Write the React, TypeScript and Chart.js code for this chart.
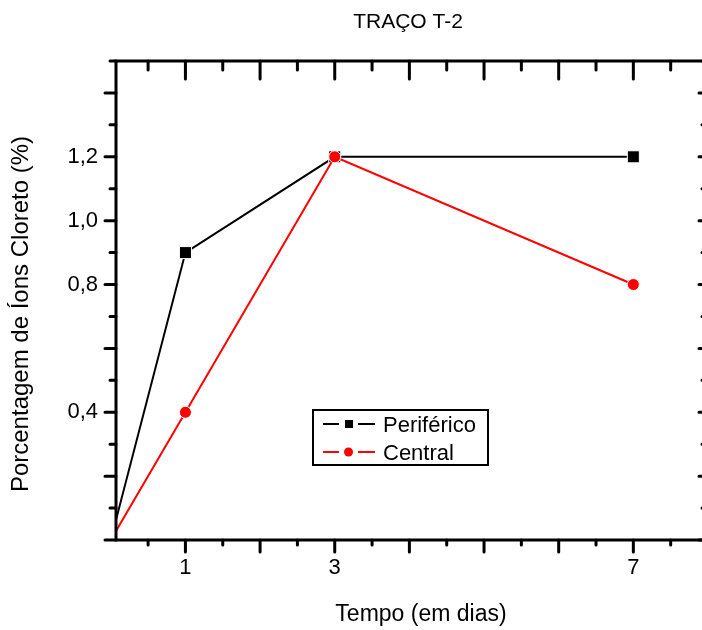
import React, { useEffect, useRef } from 'react';
import { Chart, registerables } from 'chart.js';

Chart.register(...registerables);

const TITLE = 'TRAÇO T-2';
const X_TITLE = 'Tempo (em dias)';
const Y_TITLE = 'Porcentagem de Íons Cloreto (%)';

const DAYS = [0, 1, 3, 7];
const PERIFERICO = [0, 0.9, 1.2, 1.2];
const CENTRAL = [0, 0.4, 1.2, 0.8];

const X_TICK_LABELS = [1, 3, 7];
const Y_TICK_LABELS = [0.4, 0.8, 1.0, 1.2];

const X_MIN = 0.07;
const X_MAX = 8;
const Y_MIN = 0;
const Y_MAX = 1.5;

const FONT = '"Liberation Sans", Arial, Helvetica, sans-serif';

const framePlugin = {
  id: 'originFrame',
  afterDatasetsDraw(chart: any) {
    const { ctx, chartArea: a, scales } = chart;
    const x = scales.x;
    const y = scales.y;
    ctx.save();
    ctx.strokeStyle = '#000';
    ctx.lineWidth = 3;
    ctx.lineJoin = 'miter';
    ctx.strokeRect(a.left, a.top, a.right - a.left, a.bottom - a.top);

    ctx.lineCap = 'round';
    ctx.lineWidth = 3;
    // x ticks every 0.5, major every 1
    for (let k = Math.ceil(X_MIN * 2); k <= X_MAX * 2; k++) {
      const v = k / 2;
      const major = k % 2 === 0;
      const px = x.getPixelForValue(v);
      ctx.beginPath();
      ctx.moveTo(px, a.bottom);
      ctx.lineTo(px, a.bottom + (major ? 12 : 5));
      ctx.moveTo(px, a.top);
      ctx.lineTo(px, a.top + (major ? 18 : 9));
      ctx.stroke();
    }
    // y ticks every 0.1, major every 0.2
    for (let k = Math.round(Y_MIN * 10); k <= Math.round(Y_MAX * 10); k++) {
      const v = k / 10;
      const major = k % 2 === 0;
      const py = y.getPixelForValue(v);
      ctx.beginPath();
      ctx.moveTo(a.left, py);
      ctx.lineTo(a.left - (major ? 11 : 6), py);
      ctx.moveTo(a.right, py);
      ctx.lineTo(a.right - (major ? 9 : 6), py);
      ctx.stroke();
    }
    ctx.restore();
  },
  afterDraw(chart: any) {
    const { ctx } = chart;
    ctx.save();
    ctx.fillStyle = '#000';

    // title
    ctx.font = `21px ${FONT}`;
    ctx.textAlign = 'center';
    ctx.textBaseline = 'alphabetic';
    ctx.fillText(TITLE, 408, 28);

    // x title
    ctx.font = `23px ${FONT}`;
    ctx.fillText(X_TITLE, 421, 621);

    // y title
    ctx.save();
    ctx.translate(28, 314);
    ctx.rotate(-Math.PI / 2);
    ctx.font = `24px ${FONT}`;
    ctx.fillText(Y_TITLE, 0, 0);
    ctx.restore();

    // legend
    const bx = 313, by = 410, bw = 175, bh = 55;
    ctx.fillStyle = '#fff';
    ctx.fillRect(bx, by, bw, bh);
    ctx.strokeStyle = '#000';
    ctx.lineWidth = 2;
    ctx.strokeRect(bx, by, bw, bh);
    const rows = [424, 452];
    chart.data.datasets.forEach((ds: any, i: number) => {
      const ry = rows[i];
      ctx.strokeStyle = ds.borderColor;
      ctx.lineWidth = 2;
      ctx.lineCap = 'butt';
      ctx.beginPath();
      ctx.moveTo(323, ry);
      ctx.lineTo(339, ry);
      ctx.moveTo(358, ry);
      ctx.lineTo(375, ry);
      ctx.stroke();
      ctx.fillStyle = ds.backgroundColor;
      if (ds.pointStyle === 'rect') {
        ctx.fillRect(345, ry - 4, 8, 8);
      } else {
        ctx.beginPath();
        ctx.arc(348.5, ry, 4.5, 0, Math.PI * 2);
        ctx.fill();
      }
      ctx.fillStyle = '#000';
      ctx.font = `22px ${FONT}`;
      ctx.textAlign = 'left';
      ctx.textBaseline = 'alphabetic';
      ctx.fillText(ds.label, 383, ry + 8);
    });
    ctx.restore();
  },
};

export default function App() {
  const ref = useRef<HTMLCanvasElement | null>(null);

  useEffect(() => {
    if (!ref.current) return;
    const chart = new Chart(ref.current, {
      type: 'line',
      data: {
        datasets: [
          {
            label: 'Periférico',
            data: DAYS.map((d, i) => ({ x: d, y: PERIFERICO[i] })),
            borderColor: '#000000',
            backgroundColor: '#000000',
            borderWidth: 2,
            pointStyle: 'rect',
            pointRadius: 8.5,
            pointBorderColor: '#ffffff',
            pointBorderWidth: 1,
            clip: 0,
            order: 1,
          },
          {
            label: 'Central',
            data: DAYS.map((d, i) => ({ x: d, y: CENTRAL[i] })),
            borderColor: '#ff0000',
            backgroundColor: '#ff0000',
            borderWidth: 2,
            pointStyle: 'circle',
            pointRadius: 6,
            pointBorderColor: '#ffffff',
            pointBorderWidth: 1,
            clip: 0,
            order: 0,
          },
        ],
      },
      options: {
        animation: false,
        responsive: false,
        events: [],
        layout: { autoPadding: false, padding: { left: 0, top: 61, right: 12, bottom: 0 } },
        plugins: {
          legend: { display: false },
          title: { display: false },
          tooltip: { enabled: false },
        },
        scales: {
          x: {
            type: 'linear',
            min: X_MIN,
            max: X_MAX,
            grid: { display: false, drawTicks: false },
            border: { display: false },
            afterFit: (s: any) => {
              s.height = 90;
            },
            afterBuildTicks: (s: any) => {
              s.ticks = X_TICK_LABELS.map((v) => ({ value: v }));
            },
            ticks: {
              color: '#000',
              font: { family: FONT, size: 22 },
              padding: 15,
              maxRotation: 0,
              autoSkip: false,
              callback: (v: any) => String(v),
            },
          },
          y: {
            type: 'linear',
            min: Y_MIN,
            max: Y_MAX,
            grid: { display: false, drawTicks: false },
            border: { display: false },
            afterFit: (s: any) => {
              s.width = 116;
            },
            afterBuildTicks: (s: any) => {
              s.ticks = Y_TICK_LABELS.map((v) => ({ value: v }));
            },
            ticks: {
              color: '#000',
              font: { family: FONT, size: 22 },
              padding: 18,
              autoSkip: false,
              callback: (v: any) => Number(v).toFixed(1).replace('.', ','),
            },
          },
        },
      } as any,
      plugins: [framePlugin],
    });
    return () => chart.destroy();
  }, []);

  return (
    <div style={{ position: 'absolute', left: 0, top: 0, width: 702, height: 630, overflow: 'hidden', background: '#fff' }}>
      <canvas ref={ref} width={720} height={630} style={{ display: 'block' }} />
    </div>
  );
}
